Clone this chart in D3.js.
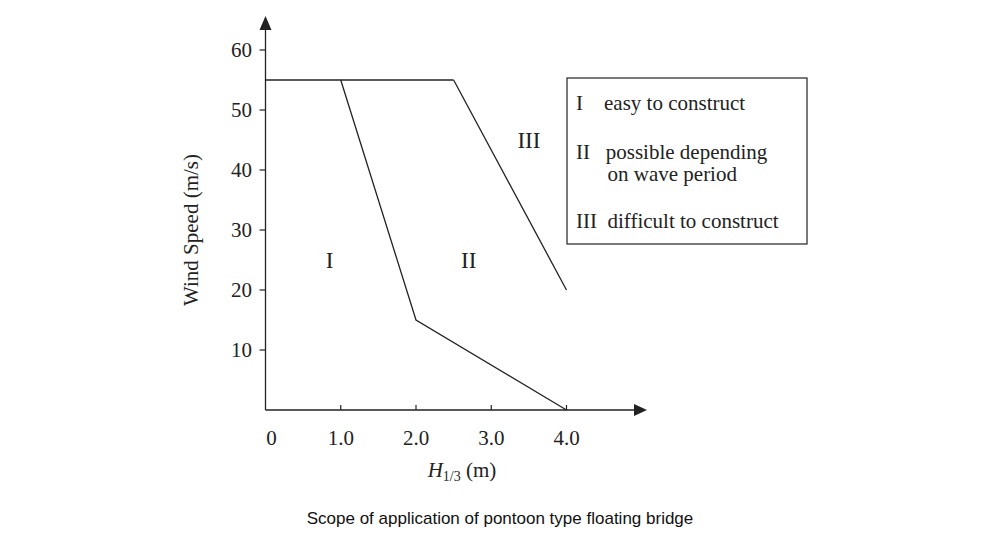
<!DOCTYPE html>
<html><head><meta charset="utf-8">
<script src="https://cdn.jsdelivr.net/npm/d3@7"></script>
<style>body{margin:0;background:#fff}svg{font-family:"Liberation Serif","DejaVu Serif",serif}</style>
</head><body>
<svg id="chart" width="1000" height="553"></svg>
<script>
// boundary lines (H1/3 in m, wind speed in m/s)
var line1 = [[0, 55], [2.5, 55]];
var line2 = [[1, 55], [2, 15], [4, 0]];
var line3 = [[2.5, 55], [4, 20]];
var xTicks = [1, 2, 3, 4];
var xLabels = ["0", "1.0", "2.0", "3.0", "4.0"];
var yTicks = [10, 20, 30, 40, 50, 60];
var regions = [{t: "I", x: 0.85, y: 25}, {t: "II", x: 2.7, y: 25}, {t: "III", x: 3.5, y: 45}];
var legend = [["I    easy to construct"], ["II   possible depending", "      on wave period"], ["III  difficult to construct"]];

var svg = d3.select("#chart");
var x = d3.scaleLinear().domain([0, 4]).range([265.5, 566.5]);
var y = d3.scaleLinear().domain([0, 60]).range([410, 50]);
var ink = "#222";

// axes
svg.append("line").attr("x1", x(0)).attr("x2", 636).attr("y1", y(0)).attr("y2", y(0)).attr("stroke", ink).attr("stroke-width", 1.3);
svg.append("path").attr("d", "M647,410 L634,404 L634,416 Z").attr("fill", ink);
svg.append("line").attr("x1", x(0)).attr("x2", x(0)).attr("y1", y(0)).attr("y2", 28).attr("stroke", ink).attr("stroke-width", 1.3);
svg.append("path").attr("d", "M265.5,16 L259.5,30 L271.5,30 Z").attr("fill", ink);

svg.selectAll(".xt").data(xTicks).enter().append("line")
    .attr("x1", d => x(d)).attr("x2", d => x(d)).attr("y1", y(0)).attr("y2", y(0) - 5)
    .attr("stroke", ink).attr("stroke-width", 1.2);
svg.selectAll(".xl").data(xLabels).enter().append("text")
    .attr("x", (d, i) => x(i) + (i === 0 ? 6 : 0)).attr("y", 445)
    .attr("text-anchor", "middle").attr("font-size", 21).attr("fill", ink).text(d => d);

svg.selectAll(".yt").data(yTicks).enter().append("line")
    .attr("x1", x(0) - 6).attr("x2", x(0)).attr("y1", d => y(d)).attr("y2", d => y(d))
    .attr("stroke", ink).attr("stroke-width", 1.2);
svg.selectAll(".yl").data(yTicks).enter().append("text")
    .attr("x", 252).attr("y", d => y(d) + 7)
    .attr("text-anchor", "end").attr("font-size", 21).attr("fill", ink).text(d => d);

// axis titles
var xt = svg.append("text").attr("x", 462).attr("y", 477).attr("text-anchor", "middle").attr("font-size", 21).attr("fill", ink);
xt.append("tspan").attr("font-style", "italic").text("H");
xt.append("tspan").attr("font-size", 14).attr("dy", 4).text("1/3");
xt.append("tspan").attr("dy", -4).text(" (m)");
svg.append("text").attr("transform", "translate(198,230) rotate(-90)").attr("text-anchor", "middle")
    .attr("font-size", 21).attr("fill", ink).text("Wind Speed (m/s)");

// boundaries
var lineGen = d3.line().x(d => x(d[0])).y(d => y(d[1]));
[line1, line2, line3].forEach(function (d) {
    svg.append("path").attr("d", lineGen(d)).attr("fill", "none").attr("stroke", ink).attr("stroke-width", 1.3);
});

svg.selectAll(".rg").data(regions).enter().append("text")
    .attr("x", d => x(d.x)).attr("y", d => y(d.y) + 8).attr("text-anchor", "middle")
    .attr("font-size", 23).attr("fill", ink).text(d => d.t);

// legend box
svg.append("rect").attr("x", 567).attr("y", 78).attr("width", 240).attr("height", 166)
    .attr("fill", "none").attr("stroke", ink).attr("stroke-width", 1.2);
var ly = [110, 159, 228];
legend.forEach(function (lines, i) {
    lines.forEach(function (s, j) {
        svg.append("text").attr("x", 576).attr("y", ly[i] + j * 22).attr("font-size", 21)
            .attr("fill", ink).attr("textLength", null).style("white-space", "pre").text(s);
    });
});

// caption
svg.append("text").attr("x", 500).attr("y", 524).attr("text-anchor", "middle")
    .attr("font-family", "Liberation Sans, Arial, sans-serif").attr("font-size", 17).attr("fill", "#111")
    .text("Scope of application of pontoon type floating bridge");
</script>
</body></html>
